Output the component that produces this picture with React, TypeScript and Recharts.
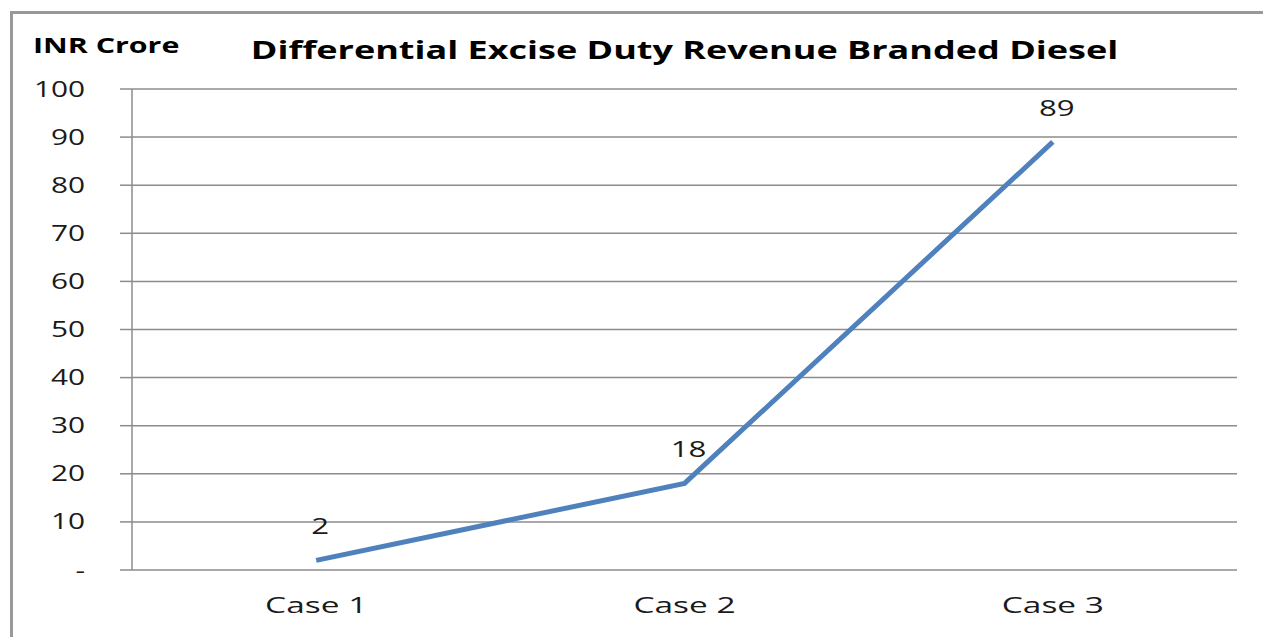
import { LineChart, Line, XAxis, YAxis, CartesianGrid, LabelList } from "recharts";

const cases = ["Case 1", "Case 2", "Case 3"];
const revenue = [2, 18, 89];
const yTicks = [0, 10, 20, 30, 40, 50, 60, 70, 80, 90, 100];
const caseEdges = [0, 1, 2, 3];

const data = cases.map((name, i) => ({ pos: i + 0.5, name, revenue: revenue[i] }));

const font = "'Open Sans', 'Noto Sans', sans-serif";
const gray = "#8c8c8c";
const ink = "#1a1a1a";
// the source picture is stretched sideways, so text is widened to match
const stretch = 1.42;

const YTick = (props: any) => {
  const { x, y, payload } = props;
  const label = payload.value === 0 ? "-" : String(payload.value);
  return (
    <text
      transform={`translate(${x},${y}) scale(${stretch},1)`}
      textAnchor="end"
      dy="0.36em"
      fill={ink}
      fontSize={21}
      fontFamily={font}
    >
      {label}
    </text>
  );
};

const XTick = (props: any) => {
  const { x, y, payload } = props;
  return (
    <text
      transform={`translate(${x},${y}) scale(1.52,1)`}
      textAnchor="middle"
      dy="0.71em"
      fill={ink}
      fontSize={22}
      fontFamily={font}
    >
      {cases[Math.floor(payload.value)]}
    </text>
  );
};

const PointLabel = (props: any) => {
  const { x, y, value } = props;
  return (
    <text
      transform={`translate(${x + 4},${y - 26}) scale(${stretch},1)`}
      textAnchor="middle"
      fill={ink}
      fontSize={22}
      fontFamily={font}
    >
      {value}
    </text>
  );
};

export default function App() {
  return (
    <div style={{ position: "fixed", left: 0, top: 0, width: 1263, height: 637, overflow: "hidden", background: "#fff", fontFamily: font }}>
      <div
        style={{
          position: "absolute",
          left: 10,
          top: 11,
          width: 1300,
          height: 700,
          borderLeft: "3px solid #999",
          borderTop: "3px solid #999",
        }}
      />
      <div
        style={{
          position: "absolute",
          left: 33,
          top: 29,
          fontSize: 22,
          fontWeight: 700,
          color: "#000",
          transform: "scaleX(1.38)",
          transformOrigin: "left center",
          whiteSpace: "nowrap",
        }}
      >
        INR Crore
      </div>
      <div
        style={{
          position: "absolute",
          left: 132,
          width: 1105,
          top: 32,
          textAlign: "center",
          fontSize: 25,
          fontWeight: 700,
          color: "#000",
          transform: "scaleX(1.44)",
          transformOrigin: "center",
          whiteSpace: "nowrap",
        }}
      >
        Differential Excise Duty Revenue Branded Diesel
      </div>
      <div style={{ position: "absolute", left: 0, top: 0 }}>
        <LineChart width={1263} height={637} data={data} margin={{ top: 89, right: 26, bottom: 27, left: 0 }}>
          <CartesianGrid vertical={false} stroke={gray} strokeWidth={1.5} />
          <XAxis
            xAxisId="labels"
            dataKey="pos"
            type="number"
            domain={[0, 3]}
            ticks={data.map((d) => d.pos)}
            axisLine={false}
            tickLine={false}
            tick={<XTick />}
            tickMargin={21}
            height={40}
          />
          <XAxis
            xAxisId="edges"
            dataKey="pos"
            type="number"
            domain={[0, 3]}
            ticks={caseEdges}
            tick={false}
            axisLine={{ stroke: gray, strokeWidth: 1.5 }}
            tickLine={{ stroke: gray, strokeWidth: 1.5 }}
            tickSize={8}
            height={0}
          />
          <YAxis
            domain={[0, 100]}
            ticks={yTicks}
            interval={0}
            width={132}
            axisLine={{ stroke: gray, strokeWidth: 1.5 }}
            tickLine={{ stroke: gray, strokeWidth: 1.5 }}
            tickSize={12}
            tickMargin={35}
            tick={<YTick />}
          />
          <Line
            xAxisId="labels"
            dataKey="revenue"
            stroke="#4f81bd"
            strokeWidth={5}
            dot={false}
            isAnimationActive={false}
          >
            <LabelList dataKey="revenue" content={<PointLabel />} />
          </Line>
        </LineChart>
      </div>
    </div>
  );
}
